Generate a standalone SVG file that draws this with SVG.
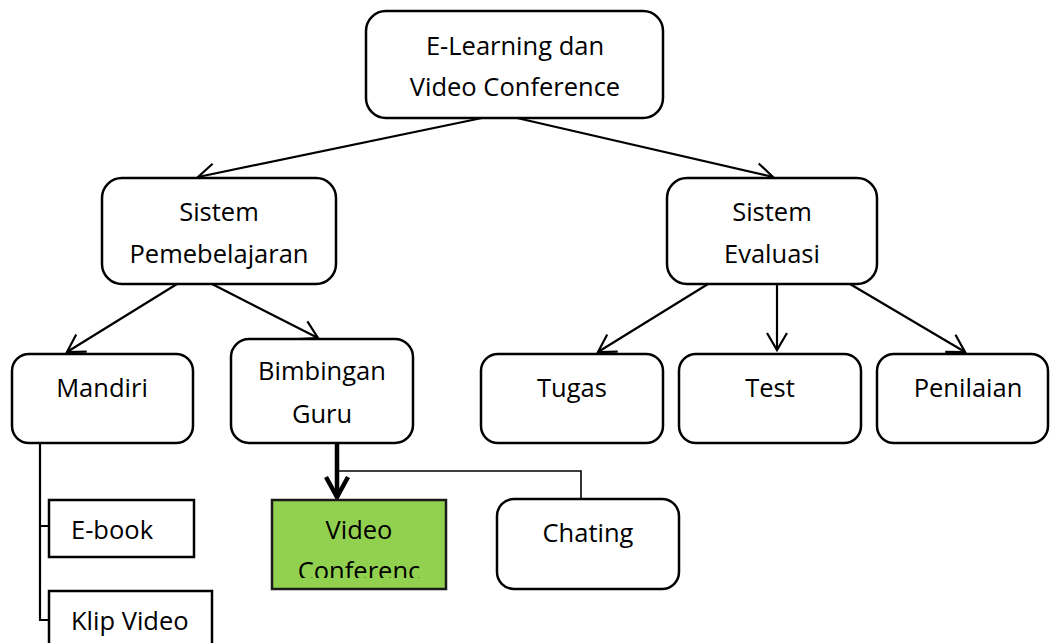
<svg xmlns="http://www.w3.org/2000/svg" width="1051" height="643" viewBox="0 0 1051 643">
<style>
.node{fill:#fff;stroke:#000;stroke-width:2.5}
.green{fill:#92D050;stroke:#1a1a1a;stroke-width:2.5}
.t{font-family:"Open Sans","Liberation Sans",sans-serif;font-size:25.5px;fill:#000}
.c{text-anchor:middle}
.con{fill:none;stroke:#000;stroke-width:2.2}
.thin{fill:none;stroke:#000;stroke-width:1.6}
.bold{fill:none;stroke:#000;stroke-width:4.5}
</style>
<defs>
<marker id="arr" markerUnits="userSpaceOnUse" viewBox="0 0 22 22" markerWidth="22" markerHeight="22" refX="17.5" refY="11" orient="auto" overflow="visible">
<path d="M0.5,1 L17.5,11 L0.5,21" fill="none" stroke="#000" stroke-width="2.2"/>
</marker>
<marker id="arrB" markerUnits="userSpaceOnUse" viewBox="0 0 26 26" markerWidth="26" markerHeight="26" refX="22" refY="13" orient="auto" overflow="visible">
<path d="M2,2 L22,13 L2,24" fill="none" stroke="#000" stroke-width="4.5"/>
</marker>
<clipPath id="vcClip"><rect x="272" y="500" width="174" height="78"/></clipPath>
</defs>

<g id="connectors">
<line class="con" x1="482" y1="118" x2="198" y2="177" marker-end="url(#arr)"/>
<line class="con" x1="517" y1="118" x2="773" y2="177" marker-end="url(#arr)"/>
<line class="con" x1="177" y1="284" x2="67" y2="352" marker-end="url(#arr)"/>
<line class="con" x1="212" y1="284" x2="318" y2="338" marker-end="url(#arr)"/>
<line class="con" x1="708" y1="284" x2="598" y2="352" marker-end="url(#arr)"/>
<line class="con" x1="777" y1="284" x2="777" y2="350" marker-end="url(#arr)"/>
<line class="con" x1="850" y1="284" x2="965" y2="352" marker-end="url(#arr)"/>
<line class="bold" x1="337" y1="443" x2="337" y2="497" marker-end="url(#arrB)"/>
<polyline class="thin" points="337,471 581,471 581,499"/>
<path class="con" d="M40,443 V620 H48 M40,526 H48"/>
</g>

<g id="n-root">
<rect class="node" x="366" y="11" width="297" height="107" rx="20"/>
<text class="t c" x="515" y="55">E-Learning dan</text>
<text class="t c" x="515" y="96">Video Conference</text>
</g>

<g id="n-pembelajaran">
<rect class="node" x="102" y="178" width="234" height="106" rx="20"/>
<text class="t c" x="219" y="221">Sistem</text>
<text class="t c" x="219" y="263">Pemebelajaran</text>
</g>

<g id="n-evaluasi">
<rect class="node" x="667" y="178" width="210" height="106" rx="20"/>
<text class="t c" x="772" y="221">Sistem</text>
<text class="t c" x="772" y="263">Evaluasi</text>
</g>

<g id="n-mandiri">
<rect class="node" x="12" y="354" width="181" height="89" rx="17"/>
<text class="t c" x="102" y="397">Mandiri</text>
</g>

<g id="n-bimbingan">
<rect class="node" x="231" y="339" width="182" height="104" rx="18"/>
<text class="t c" x="322" y="380">Bimbingan</text>
<text class="t c" x="322" y="423">Guru</text>
</g>

<g id="n-tugas">
<rect class="node" x="481" y="354" width="182" height="89" rx="17"/>
<text class="t c" x="572" y="397">Tugas</text>
</g>

<g id="n-test">
<rect class="node" x="679" y="354" width="182" height="89" rx="17"/>
<text class="t c" x="770" y="397">Test</text>
</g>

<g id="n-penilaian">
<rect class="node" x="877" y="354" width="171" height="89" rx="17"/>
<text class="t c" x="968" y="397">Penilaian</text>
</g>

<g id="n-ebook">
<rect class="node" x="49" y="500" width="145" height="57"/>
<text class="t" x="71" y="539">E-book</text>
</g>

<g id="n-klip">
<rect class="node" x="49" y="591" width="163" height="60"/>
<text class="t" x="71" y="630">Klip Video</text>
</g>

<g id="n-videoconf">
<rect class="green" x="272" y="500" width="174" height="89"/>
<g clip-path="url(#vcClip)">
<text class="t c" x="359" y="539">Video</text>
<text class="t c" x="359" y="580">Conferenc</text>
</g>
</g>

<g id="n-chating">
<rect class="node" x="497" y="499" width="182" height="90" rx="17"/>
<text class="t c" x="588" y="542">Chating</text>
</g>
</svg>
